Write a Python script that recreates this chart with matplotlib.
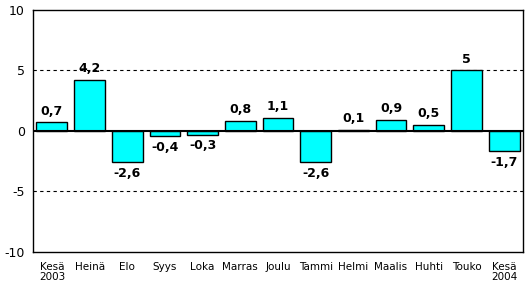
import matplotlib.pyplot as plt
import numpy as np

# kuukaudet ja muutos-%
kuukaudet = ["Kesä\n2003", "Heinä", "Elo", "Syys", "Loka", "Marras", "Joulu",
             "Tammi", "Helmi", "Maalis", "Huhti", "Touko", "Kesä\n2004"]
arvot = [0.7, 4.2, -2.6, -0.4, -0.3, 0.8, 1.1, -2.6, 0.1, 0.9, 0.5, 5.0, -1.7]
y_ticks = [-10, -5, 0, 5, 10]

fig = plt.figure(figsize=(5.25, 2.84), dpi=100)
ax = fig.add_axes([0.063, 0.113, 0.933, 0.852])

x = np.arange(len(arvot))
ax.bar(x, arvot, width=0.82, color="#00FFFF", edgecolor="black", linewidth=1, zorder=3)

# nollaviiva ja katkoviivat
ax.axhline(0, color="black", linewidth=1.5, zorder=4)
for v in (5, -5):
    ax.axhline(v, color="black", linestyle=(0, (3, 3)), linewidth=0.8, zorder=1)

for xi, v in zip(x, arvot):
    teksti = ("%g" % v).replace(".", ",")
    if v >= 0:
        ax.text(xi, v + 0.4, teksti, ha="center", va="bottom", fontsize=9, fontweight="bold")
    else:
        ax.text(xi, v - 0.4, teksti, ha="center", va="top", fontsize=9, fontweight="bold")

ax.set_xlim(-0.5, len(arvot) - 0.5)
ax.set_ylim(-10, 10)
ax.set_yticks(y_ticks)
ax.set_yticklabels([str(t) for t in y_ticks], fontsize=9)
ax.set_xticks(x)
ax.set_xticklabels(kuukaudet, fontsize=7.5, va="top", linespacing=1.1)
ax.tick_params(axis="both", length=0)
ax.tick_params(axis="x", pad=7)
ax.tick_params(axis="y", pad=6)
for s in ax.spines.values():
    s.set_linewidth(1)

fig.savefig("out.png", dpi=100)
